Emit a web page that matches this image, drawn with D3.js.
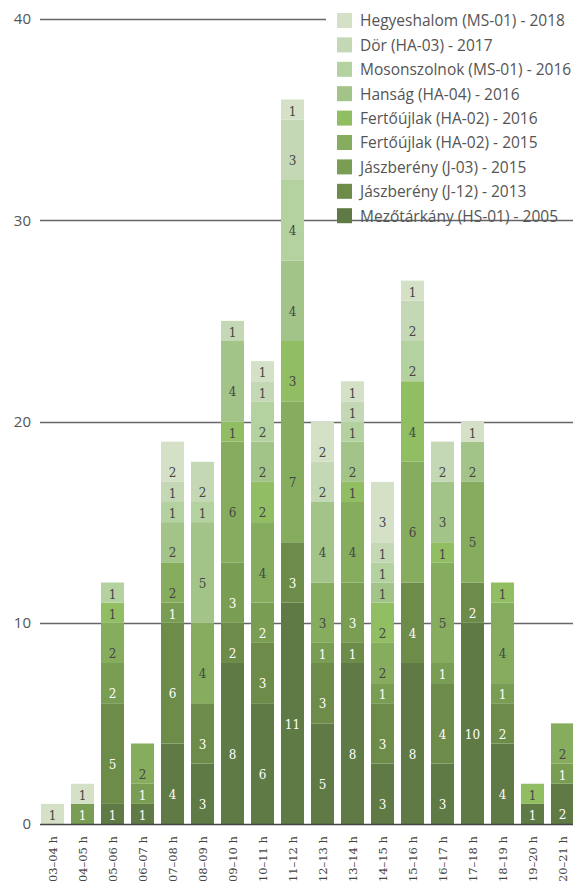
<!DOCTYPE html>
<html>
<head>
<meta charset="utf-8">
<script src="https://cdn.jsdelivr.net/npm/d3@7"></script>
<style>
  body { margin: 0; background: #fff; }
  svg { display: block; }
</style>
</head>
<body>
<script>
const hours = ["03-04 h", "04-05 h", "05-06 h", "06-07 h", "07-08 h", "08-09 h", "09-10 h", "10-11 h", "11-12 h",
  "12-13 h", "13-14 h", "14-15 h", "15-16 h", "16-17 h", "17-18 h", "18-19 h", "19-20 h", "20-21 h"];

// bottom to top
const seriesNames = [
  "Mezőtárkány (HS-01) - 2005",
  "Jászberény (J-12) - 2013",
  "Jászberény (J-03) - 2015",
  "Fertőújlak (HA-02) - 2015",
  "Fertőújlak (HA-02) - 2016",
  "Hanság (HA-04) - 2016",
  "Mosonszolnok (MS-01) - 2016",
  "Dör (HA-03) - 2017",
  "Hegyeshalom (MS-01) - 2018"
];

const mezotarkany = [0, 0, 1, 1, 4, 3, 8, 6, 11, 5, 8, 3, 8, 3, 10, 4, 1, 2];
const jaszbereny12 = [0, 0, 5, 0, 6, 3, 2, 3, 3, 3, 1, 3, 4, 4, 2, 2, 0, 0];
const jaszbereny03 = [0, 1, 2, 1, 1, 0, 3, 2, 0, 1, 3, 1, 0, 1, 0, 1, 0, 1];
const fertoujlak15 = [0, 0, 2, 2, 2, 4, 6, 4, 7, 3, 4, 2, 6, 5, 5, 4, 0, 2];
const fertoujlak16 = [0, 0, 1, 0, 0, 0, 1, 2, 3, 0, 1, 2, 4, 1, 0, 1, 1, 0];
const hansag = [0, 0, 0, 0, 2, 5, 4, 2, 4, 4, 2, 1, 0, 3, 2, 0, 0, 0];
const mosonszolnok = [0, 0, 1, 0, 1, 1, 0, 2, 4, 0, 1, 1, 2, 0, 0, 0, 0, 0];
const dor = [0, 0, 0, 0, 1, 2, 1, 1, 3, 2, 1, 1, 2, 2, 0, 0, 0, 0];
const hegyeshalom = [1, 1, 0, 0, 2, 0, 0, 1, 1, 2, 1, 3, 1, 0, 1, 0, 0, 0];

const yTicks = [0, 10, 20, 30, 40];

const seriesValues = [mezotarkany, jaszbereny12, jaszbereny03, fertoujlak15, fertoujlak16,
  hansag, mosonszolnok, dor, hegyeshalom];

const colors = ["#5f7a45", "#6d8c4a", "#7a9d54", "#86ad5d", "#91bd63",
  "#a2c488", "#b4d1a0", "#c4d8b6", "#d4e1c7"];

const width = 573, height = 881;
const margin = {left: 40, right: 0, top: 19, bottom: 57};

const table = hours.map((h, i) => {
  const row = {hour: h};
  seriesNames.forEach((s, k) => row[s] = seriesValues[k][i]);
  return row;
});

const stack = d3.stack().keys(seriesNames)(table);

const x = d3.scaleBand()
  .domain(hours)
  .range([37.5, 577.5])
  .paddingInner(0.233)
  .paddingOuter(0.117);

const y = d3.scaleLinear()
  .domain([0, 40])
  .range([height - margin.bottom, margin.top]);

const svg = d3.select("body").append("svg")
  .attr("width", width)
  .attr("height", height);

// grid
svg.append("g")
  .selectAll("line")
  .data(yTicks.filter(t => t > 0))
  .enter()
  .append("line")
  .attr("x1", margin.left)
  .attr("x2", width)
  .attr("y1", d => Math.round(y(d)) + 0.5)
  .attr("y2", d => Math.round(y(d)) + 0.5)
  .style("stroke", "#666")
  .style("stroke-width", 1.5);

svg.append("g")
  .selectAll("text")
  .data(yTicks)
  .enter()
  .append("text")
  .attr("x", 31)
  .attr("y", d => y(d))
  .attr("dy", "0.35em")
  .style("text-anchor", "end")
  .style("font-family", "Open Sans, sans-serif")
  .style("font-size", "15px")
  .style("fill", "#555")
  .text(d => d);

// legend background hides top grid line
const legend = svg.append("g");
legend.append("rect")
  .attr("x", 326)
  .attr("y", 6)
  .attr("width", width - 326)
  .attr("height", 208)
  .style("fill", "#fff");

// bars
const layers = svg.append("g")
  .selectAll("g")
  .data(stack)
  .enter()
  .append("g")
  .style("fill", (d, i) => colors[i]);

layers.selectAll("rect")
  .data(d => d)
  .enter()
  .append("rect")
  .attr("x", d => x(d.data.hour))
  .attr("y", d => y(d[1]))
  .attr("width", x.bandwidth())
  .attr("height", d => y(d[0]) - y(d[1]));

layers.each(function (layer, i) {
  d3.select(this).selectAll("text")
    .data(layer.filter(d => d[1] - d[0] > 0))
    .enter()
    .append("text")
    .attr("x", d => x(d.data.hour) + x.bandwidth() / 2)
    .attr("y", d => {
      const h = y(d[0]) - y(d[1]);
      return y(d[0]) - Math.max(8, h / 2 - 11);
    })
    .attr("dy", "0.35em")
    .style("text-anchor", "middle")
    .style("font-family", "DejaVu Serif, serif")
    .style("font-size", "12px")
    .style("fill", i < 3 ? "#fff" : "#444")
    .text(d => d[1] - d[0]);
});

// baseline
svg.append("line")
  .attr("x1", margin.left)
  .attr("x2", width)
  .attr("y1", y(0) + 0.5)
  .attr("y2", y(0) + 0.5)
  .style("stroke", "#444")
  .style("stroke-width", 1.5);

// x labels
svg.append("g")
  .selectAll("text")
  .data(hours)
  .enter()
  .append("text")
  .attr("transform", d => "translate(" + (x(d) + x.bandwidth() / 2) + "," + (y(0) + 12) + ") rotate(-90)")
  .attr("dy", "0.35em")
  .style("text-anchor", "end")
  .style("font-family", "DejaVu Serif, serif")
  .style("font-size", "11.5px")
  .style("fill", "#444")
  .text(d => d.replace("-", "–"));

// legend
const items = legend.selectAll("g.item")
  .data(seriesNames.slice().reverse())
  .enter()
  .append("g")
  .attr("class", "item")
  .attr("transform", (d, i) => "translate(337," + (13 + i * 24.4) + ")");

items.append("rect")
  .attr("width", 15)
  .attr("height", 15)
  .style("fill", (d, i) => colors[colors.length - 1 - i]);

items.append("text")
  .attr("x", 23)
  .attr("y", 8)
  .attr("dy", "0.35em")
  .style("font-family", "Open Sans, sans-serif")
  .style("font-size", "15.5px")
  .style("fill", "#555")
  .text(d => d);
</script>
</body>
</html>
